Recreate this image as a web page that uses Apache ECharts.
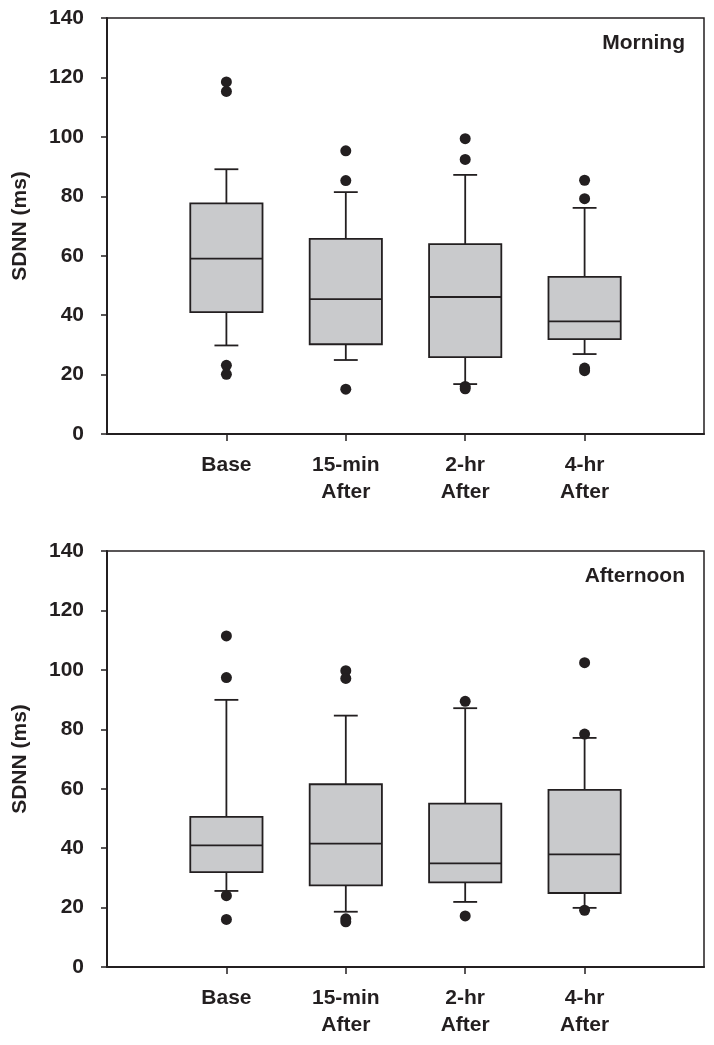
<!DOCTYPE html>
<html><head><meta charset="utf-8">
<script src="https://cdn.jsdelivr.net/npm/echarts@6/dist/echarts.min.js"></script>
<style>html,body{margin:0;padding:0;background:#fff}#c{width:714px;height:1045px}</style>
</head><body><div id="c"></div>
<script>
// Categories (x positions 1..4 on a 0..5 axis)
const categories = ['Base', '15-min\nAfter', '2-hr\nAfter', '4-hr\nAfter'];
const categoryPositions = [1, 2, 3, 4];
const panelTitles = ['Morning', 'Afternoon'];
const yAxisName = 'SDNN (ms)';

// Box stats: [lower whisker, Q1, median, Q3, upper whisker]
const morningBoxes = [
  [29.8, 41.0, 59.0, 77.6, 89.1],
  [24.9, 30.2, 45.4, 65.7, 81.4],
  [16.8, 25.9, 46.1, 63.9, 87.2],
  [26.9, 31.9, 37.9, 52.9, 76.1]
];
const morningOutliers = [
  [118.5, 115.3, 23.1, 20.1],
  [95.3, 85.3, 15.1],
  [99.4, 92.4, 16.0, 15.2],
  [85.4, 79.2, 22.2, 21.3]
];
const afternoonBoxes = [
  [25.6, 31.9, 40.9, 50.5, 89.9],
  [18.6, 27.5, 41.5, 61.5, 84.6],
  [21.9, 28.5, 34.9, 55.0, 87.1],
  [19.9, 24.9, 37.9, 59.6, 77.1]
];
const afternoonOutliers = [
  [111.4, 97.4, 24.0, 16.0],
  [99.7, 97.1, 16.2, 15.2],
  [89.4, 17.2],
  [102.4, 78.4, 19.1]
];

const DARK = '#231f20';
const FILL = '#c9cacc';
const FONT = "'Liberation Sans', Arial, Helvetica, sans-serif";

function boxData(boxes) {
  return boxes.map((b, i) => [categoryPositions[i]].concat(b));
}
function outlierData(outs) {
  const r = [];
  outs.forEach((arr, i) => arr.forEach(v => r.push([categoryPositions[i], v])));
  return r;
}

function renderBox(params, api) {
  const x = api.value(0);
  const pLow = api.coord([x, api.value(1)]);
  const pQ1 = api.coord([x, api.value(2)]);
  const pMed = api.coord([x, api.value(3)]);
  const pQ3 = api.coord([x, api.value(4)]);
  const pHigh = api.coord([x, api.value(5)]);
  const bw = api.size([0.605, 0])[0];
  const cw = api.size([0.2, 0])[0];
  const cx = pLow[0];
  const st = { stroke: DARK, lineWidth: 1.8 };
  return {
    type: 'group',
    children: [
      { type: 'line', shape: { x1: cx, y1: pLow[1], x2: cx, y2: pQ1[1] }, style: st },
      { type: 'line', shape: { x1: cx, y1: pQ3[1], x2: cx, y2: pHigh[1] }, style: st },
      { type: 'line', shape: { x1: cx - cw / 2, y1: pLow[1], x2: cx + cw / 2, y2: pLow[1] }, style: st },
      { type: 'line', shape: { x1: cx - cw / 2, y1: pHigh[1], x2: cx + cw / 2, y2: pHigh[1] }, style: st },
      { type: 'rect', shape: { x: cx - bw / 2, y: pQ3[1], width: bw, height: pQ1[1] - pQ3[1] },
        style: { fill: FILL, stroke: DARK, lineWidth: 1.8 } },
      { type: 'line', shape: { x1: cx - bw / 2, y1: pMed[1], x2: cx + bw / 2, y2: pMed[1] }, style: st }
    ]
  };
}

const gridTops = [18, 551];
const grids = gridTops.map(t => ({
  left: 107, top: t, width: 597, height: 416,
  show: true, borderColor: DARK, borderWidth: 1.5, backgroundColor: 'transparent'
}));

const xAxes = gridTops.map((t, gi) => ({
  type: 'value', gridIndex: gi, min: 0, max: 5, interval: 1,
  splitLine: { show: false },
  axisLine: { show: true, onZero: false, lineStyle: { color: DARK, width: 2 } },
  axisTick: { show: true, length: 7, customValues: categoryPositions, lineStyle: { color: DARK, width: 1.5 } },
  axisLabel: {
    customValues: categoryPositions,
    formatter: v => categories[Math.round(v) - 1] || '',
    fontSize: 21, fontWeight: 'bold', color: DARK, fontFamily: FONT,
    lineHeight: 27, margin: 18
  }
}));

const yAxes = gridTops.map((t, gi) => ({
  type: 'value', gridIndex: gi, min: 0, max: 140, interval: 20,
  splitLine: { show: false },
  axisLine: { show: true, lineStyle: { color: DARK, width: 2 } },
  axisTick: { show: true, length: 6, lineStyle: { color: DARK, width: 1.5 } },
  axisLabel: { fontSize: 21, fontWeight: 'bold', color: DARK, fontFamily: FONT, margin: 23 },
  name: yAxisName, nameLocation: 'middle', nameGap: 76, nameRotate: 90,
  nameTextStyle: { fontSize: 21, fontWeight: 'bold', color: DARK, fontFamily: FONT }
}));

const allBoxes = [morningBoxes, afternoonBoxes];
const allOutliers = [morningOutliers, afternoonOutliers];
const series = [];
[0, 1].forEach(gi => {
  series.push({
    type: 'custom', xAxisIndex: gi, yAxisIndex: gi,
    data: boxData(allBoxes[gi]), renderItem: renderBox,
    encode: { x: 0, y: [1, 2, 3, 4, 5] }, z: 2, silent: true
  });
  series.push({
    type: 'scatter', xAxisIndex: gi, yAxisIndex: gi,
    data: outlierData(allOutliers[gi]), symbol: 'circle', symbolSize: 11,
    itemStyle: { color: DARK, opacity: 1 }, z: 3, silent: true
  });
});

const graphics = gridTops.map((t, gi) => ({
  type: 'text', right: 29, top: t + 15,
  style: { text: panelTitles[gi], fontSize: 21, fontWeight: 'bold', fill: DARK, font: "bold 21px " + FONT }
}));

const chart = echarts.init(document.getElementById('c'), null, { renderer: 'canvas' });
chart.setOption({
  animation: false,
  backgroundColor: '#fff',
  grid: grids,
  xAxis: xAxes,
  yAxis: yAxes,
  series: series,
  graphic: graphics
});
</script></body></html>
